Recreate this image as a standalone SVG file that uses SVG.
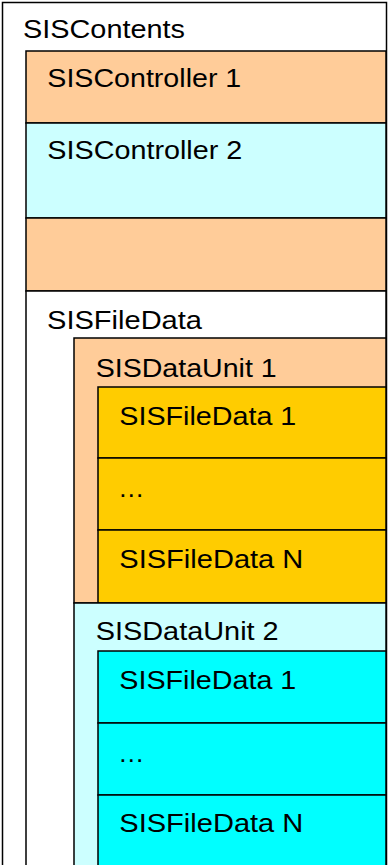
<svg xmlns="http://www.w3.org/2000/svg" width="388" height="865" viewBox="0 0 388 865">
<style>
.b{stroke:#000;stroke-width:1.5}
.t{font-family:"Liberation Sans",Arial,sans-serif;font-size:26.5px;fill:#000}
.or{fill:#FFCC99}.cy{fill:#CCFFFF}.go{fill:#FFCC00}.aq{fill:#00FFFF}.wh{fill:#FFFFFF}
</style>
<rect width="388" height="865" fill="#fff"/>
<g id="sis-contents">
<rect class="b wh" x="2.5" y="2.5" width="384" height="870"/>
<text class="t" x="23" y="38.3" textLength="162" lengthAdjust="spacingAndGlyphs">SISContents</text>
</g>
<g id="controller-1">
<rect class="b or" x="26" y="51" width="360" height="72"/>
<text class="t" x="47.3" y="87.3" textLength="194" lengthAdjust="spacingAndGlyphs">SISController 1</text>
</g>
<g id="controller-2">
<rect class="b cy" x="26" y="123" width="360" height="95"/>
<text class="t" x="47.3" y="159" textLength="195" lengthAdjust="spacingAndGlyphs">SISController 2</text>
</g>
<g id="controller-empty">
<rect class="b or" x="26" y="218" width="360" height="73"/>
</g>
<g id="file-data">
<rect class="b wh" x="26" y="291" width="360" height="590"/>
<text class="t" x="47" y="329" textLength="155" lengthAdjust="spacingAndGlyphs">SISFileData</text>
</g>
<g id="data-unit-1">
<rect class="b or" x="74" y="338" width="312" height="265"/>
<text class="t" x="95.7" y="377.3" textLength="181" lengthAdjust="spacingAndGlyphs">SISDataUnit 1</text>
</g>
<g id="du1-file-data-1">
<rect class="b go" x="98" y="387" width="288" height="71"/>
<text class="t" x="119.3" y="425" textLength="177" lengthAdjust="spacingAndGlyphs">SISFileData 1</text>
</g>
<g id="du1-file-data-dots">
<rect class="b go" x="98" y="458" width="288" height="72"/>
<text class="t" x="118" y="497">…</text>
</g>
<g id="du1-file-data-n">
<rect class="b go" x="98" y="530" width="288" height="73"/>
<text class="t" x="119.3" y="568.3" textLength="184" lengthAdjust="spacingAndGlyphs">SISFileData N</text>
</g>
<g id="data-unit-2">
<rect class="b cy" x="74" y="603" width="312" height="280"/>
<text class="t" x="95.7" y="640" textLength="183" lengthAdjust="spacingAndGlyphs">SISDataUnit 2</text>
</g>
<g id="du2-file-data-1">
<rect class="b aq" x="98" y="651" width="288" height="72"/>
<text class="t" x="119.3" y="689" textLength="177" lengthAdjust="spacingAndGlyphs">SISFileData 1</text>
</g>
<g id="du2-file-data-dots">
<rect class="b aq" x="98" y="723" width="288" height="72"/>
<text class="t" x="118" y="762">…</text>
</g>
<g id="du2-file-data-n">
<rect class="b aq" x="98" y="795" width="288" height="90"/>
<text class="t" x="119.3" y="832" textLength="184" lengthAdjust="spacingAndGlyphs">SISFileData N</text>
</g>
<g id="connectors"></g>
</svg>
